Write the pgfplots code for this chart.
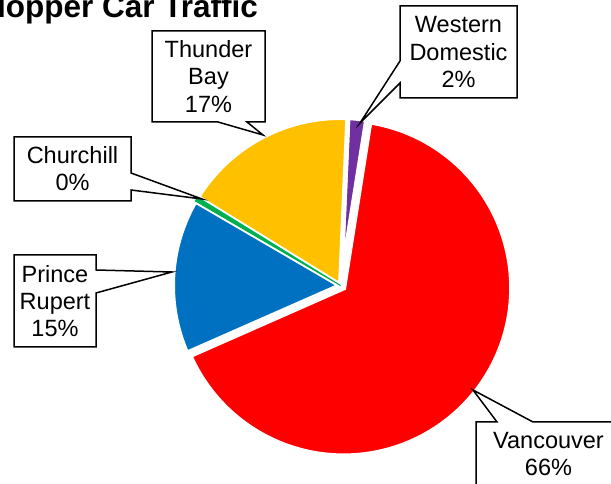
\documentclass[border=0pt]{standalone}
\usepackage{fontspec}
\setmainfont{Liberation Sans}
\usepackage{pgfplots}
\usepackage{pgfplotstable}
\pgfplotsset{compat=1.18}

\definecolor{wdpurple}{HTML}{7030A0}
\definecolor{vred}{HTML}{FF0000}
\definecolor{prblue}{HTML}{0070C0}
\definecolor{chgreen}{HTML}{00B050}
\definecolor{tbyellow}{HTML}{FFC000}

% share of hopper car traffic (%), explode offset (px), colour
\pgfplotstableread{
value explode color
1.8   0       wdpurple
65.9  4       vred
15.0  0       prblue
0.4   0       chgreen
16.9  0       tbyellow
}\pietable

\begin{document}
\begin{tikzpicture}[x=1bp,y=1bp]
\useasboundingbox (0,0) rectangle (611,484);

\begin{axis}[
    hide axis, clip=false, scale only axis,
    x=1bp, y=1bp,
    xmin=-340.5, xmax=270.5, ymin=-198.5, ymax=285.5,
    anchor=south west, at={(0,0)},
]
\def\R{168}
\def\cum{2.5}% first slice angle, clockwise from 12 o'clock
\let\lastslice\relax
\pgfplotstablegetrowsof{\pietable}
\pgfmathtruncatemacro\lastrow{\pgfplotsretval-1}
\pgfplotsforeachungrouped \i in {0,...,\lastrow}{%
  \pgfplotstablegetelem{\i}{value}\of\pietable \let\val\pgfplotsretval
  \pgfplotstablegetelem{\i}{explode}\of\pietable \let\ex\pgfplotsretval
  \pgfplotstablegetelem{\i}{color}\of\pietable \let\col\pgfplotsretval
  \pgfmathsetmacro\aA{90-\cum}%
  \pgfmathsetmacro\cum{\cum+3.6*\val}%
  \pgfmathsetmacro\aB{90-\cum}%
  \pgfmathsetmacro\mid{(\aA+\aB)/2}%
  \pgfmathsetmacro\ox{\ex*cos(\mid)}%
  \pgfmathsetmacro\oy{\ex*sin(\mid)}%
  \pgfmathtruncatemacro\tiny{\val<1}%
  \ifnum\tiny=1
    % very thin slice: drawn last, without white border
    \xdef\lastslice{\noexpand\addplot[fill=\col, draw=\col, line width=1bp,
      domain=\aB:\aA, samples=20, variable=\noexpand\t]
      ({\ox+\R*cos(\noexpand\t)},{\oy+\R*sin(\noexpand\t)}) -- (axis cs:\ox,\oy) -- cycle;}%
  \else
    \edef\slice{\noexpand\addplot[fill=\col, draw=white, line width=5bp, line join=miter,
      domain=\aB:\aA, samples=150, variable=\noexpand\t]
      ({\ox+\R*cos(\noexpand\t)},{\oy+\R*sin(\noexpand\t)}) -- (axis cs:\ox,\oy) -- cycle;}%
    \slice
  \fi
}
\lastslice
\end{axis}

% title (cut at the left as in the source)
\node[anchor=base east, inner sep=0, font=\fontsize{31.6}{36}\selectfont\bfseries]
  at (258,466) {Hopper Car Traffic};

% data callouts
\tikzset{callout/.style={draw=black, line width=1.5bp, fill=white, line join=miter},
         ctext/.style={inner sep=0, align=center, font=\fontsize{23.6}{27.3}\selectfont}}

\draw[callout] (152,453) -- (265,453) -- (265,362) -- (247,362) -- (263,349) -- (218,362) -- (152,362) -- cycle;
\node[ctext] at (208.5,407.5) {Thunder\\Bay\\17\%};

\draw[callout] (400,478) -- (517,478) -- (517,386) -- (400,386) -- (400,401) -- (360,361) -- (400,423) -- cycle;
\node[ctext] at (458.5,432) {Western\\Domestic\\2\%};

\draw[callout] (14,347) -- (131,347) -- (131,311) -- (202,285) -- (131,294) -- (131,283) -- (14,283) -- cycle;
\node[ctext] at (72.5,315) {Churchill\\0\%};

\draw[callout] (14,229) -- (96,229) -- (96,214) -- (172,212) -- (96,191) -- (96,137) -- (14,137) -- cycle;
\node[ctext] at (55,183) {Prince\\Rupert\\15\%};

\draw[callout] (476,62) -- (497,62) -- (473,94) -- (533,62) -- (621,62) -- (621,-2) -- (476,-2) -- cycle;
\node[ctext] at (548.5,30) {Vancouver\\66\%};
\end{tikzpicture}
\end{document}
